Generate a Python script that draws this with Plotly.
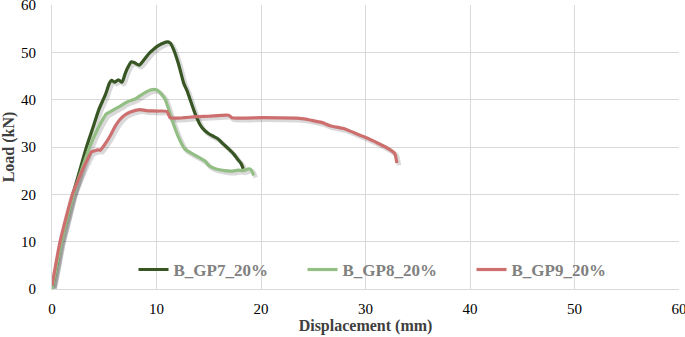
import plotly.graph_objects as go

# Displacement (mm) / Load (kN)
gp7_x = [0, 0.45, 0.85, 1.45, 2.0, 2.65, 3.3, 3.9, 4.5, 5.1, 5.5, 5.7, 6.0, 6.35, 6.7, 7.0, 7.3, 7.6, 7.9, 8.35, 8.9, 9.3, 9.7, 10.1, 10.5, 11.0, 11.3, 11.6, 12.1, 12.6, 12.9, 13.3, 13.7, 14.2, 14.6, 15.0, 15.5, 15.9, 16.4, 16.9, 17.4, 17.8, 18.1, 18.3]
gp7_y = [0, 5, 10, 15, 20, 25, 30, 34, 38, 41, 43.5, 44.1, 43.7, 44.2, 43.7, 45.5, 47.0, 48.0, 47.8, 47.3, 48.7, 49.8, 50.6, 51.3, 51.8, 52.2, 52.0, 50.8, 47.6, 43.5, 42.0, 39.5, 37.0, 34.6, 33.5, 32.8, 32.2, 31.7, 30.6, 29.6, 28.5, 27.3, 26.5, 25.4]

gp8_x = [0, 0.45, 0.9, 1.45, 2.05, 2.8, 3.6, 4.3, 4.9, 5.2, 5.55, 6.0, 6.5, 7.0, 7.5, 8.0, 8.4, 8.9, 9.5, 10.0, 10.3, 10.8, 11.1, 11.5, 12.1, 12.7, 13.4, 13.8, 14.3, 14.7, 15.0, 15.4, 15.8, 16.5, 17.3, 17.8, 18.3, 18.7, 18.9, 19.1, 19.3]
gp8_y = [0, 5, 10, 15, 20, 25, 30, 33.5, 36.0, 37.0, 37.4, 38.0, 38.6, 39.3, 39.8, 40.2, 40.8, 41.5, 42.1, 42.1, 41.6, 40.2, 38.4, 35.6, 32.1, 29.6, 28.6, 28.1, 27.5, 26.9, 26.1, 25.6, 25.3, 25.0, 24.9, 25.1, 25.0, 25.3, 25.4, 25.0, 24.0]

gp9_x = [0, 0.77, 1.95, 2.5, 3.2, 3.8, 3.95, 4.4, 4.6, 5.1, 5.6, 6.0, 6.5, 7.0, 7.5, 8.4, 9.0, 10.0, 11.0, 11.3, 12.0, 13.8, 15.0, 16.9, 17.2, 20.2, 23.4, 24.3, 24.7, 25.8, 26.6, 27.9, 28.8, 29.8, 31.1, 32.3, 32.8, 33.0]
gp9_y = [0.7, 10, 20, 23, 26.5, 29.0, 29.1, 29.4, 29.3, 30.7, 32.5, 34.2, 35.8, 36.8, 37.4, 37.9, 37.7, 37.6, 37.5, 36.2, 36.1, 36.4, 36.5, 36.7, 36.2, 36.2, 36.1, 35.9, 35.7, 35.2, 34.5, 33.9, 33.1, 32.2, 30.9, 29.5, 28.6, 26.6]

series_names = ["B_GP7_20%", "B_GP8_20%", "B_GP9_20%"]
series_colors = ["#375623", "#93bf85", "#cd6f6f"]
series_x = [gp7_x, gp8_x, gp9_x]
series_y = [gp7_y, gp8_y, gp9_y]

x_ticks = [0, 10, 20, 30, 40, 50, 60]
y_ticks = [0, 10, 20, 30, 40, 50, 60]

fig = go.Figure()

# soft drop shadows beneath each line
for xs, ys in zip(series_x, series_y):
    fig.add_trace(go.Scatter(
        x=[v + 0.2 for v in xs], y=[v - 0.45 for v in ys], mode="lines",
        line=dict(color="rgba(0,0,0,0.15)", width=4.5, shape="spline", smoothing=0.6),
        showlegend=False, hoverinfo="skip"))

for name, color, xs, ys in zip(series_names, series_colors, series_x, series_y):
    fig.add_trace(go.Scatter(x=xs, y=ys, mode="lines", name=name,
                             line=dict(color=color, width=3.2, shape="spline", smoothing=0.6)))

font_family = "Liberation Serif"
tick_font = dict(family=font_family, size=15, color="black")
fig.update_layout(
    width=685, height=337,
    margin=dict(l=52, r=6, t=5, b=48, autoexpand=False),
    paper_bgcolor="white", plot_bgcolor="white",
    font=dict(family=font_family, size=15, color="black"),
    showlegend=True,
    legend=dict(orientation="h", x=0.13, y=0.067, xanchor="left", yanchor="middle",
                bgcolor="rgba(0,0,0,0)", entrywidth=124, entrywidthmode="pixels",
                font=dict(family=font_family, size=17, color="#808080", weight="bold"),
                itemwidth=30, tracegroupgap=0),
    xaxis=dict(range=[0, 60], tickvals=x_ticks, showgrid=True, gridcolor="#d9d9d9",
               gridwidth=1, zeroline=False, showline=True, linecolor="#d9d9d9",
               ticks="", ticklabelstandoff=6,
               tickfont=tick_font, automargin=False,
               ticklabeloverflow="allow",
               title=dict(text="<b>Displacement (mm)</b>", standoff=3,
                          font=dict(family=font_family, size=16, color="#404040"))),
    yaxis=dict(range=[0, 60], tickvals=y_ticks, showgrid=True, gridcolor="#d9d9d9",
               gridwidth=1, zeroline=False, showline=True, linecolor="#d9d9d9",
               ticks="", ticklabelstandoff=12,
               tickfont=tick_font, automargin=False,
               ticklabeloverflow="allow",
               title=dict(text="<b>Load (kN)</b>", standoff=4,
                          font=dict(family=font_family, size=16, color="#404040"))),
)

fig.write_html("out.html", config={"displayModeBar": False},
               post_script="document.body.style.margin='0';document.body.style.overflow='hidden';")
